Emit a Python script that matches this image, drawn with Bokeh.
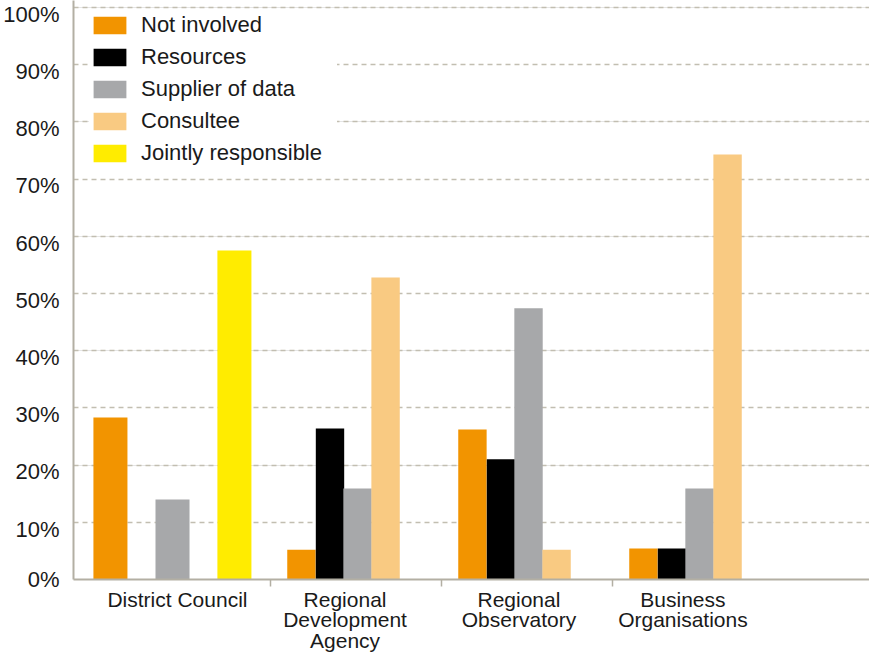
from bokeh.plotting import figure
from bokeh.models import (ColumnDataSource, Range1d, LinearAxis, FixedTicker, Grid,
                          PrintfTickFormatter, Legend, LegendItem)
from bokeh.embed import file_html
from bokeh.resources import INLINE

# ---------------- data ----------------
categories = ["District Council", "Regional\nDevelopment\nAgency",
              "Regional\nObservatory", "Business\nOrganisations"]
series = ["Not involved", "Resources", "Supplier of data", "Consultee", "Jointly responsible"]
not_involved = [28.3, 5.2, 26.2, 5.4]
resources = [0.0, 26.4, 21.0, 5.4]
supplier_of_data = [14.0, 15.9, 47.4, 15.9]
consultee = [0.0, 52.8, 5.2, 74.3]
jointly_responsible = [57.5, 0.0, 0.0, 0.0]
y_ticks = [0, 10, 20, 30, 40, 50, 60, 70, 80, 90, 100]

values = [not_involved, resources, supplier_of_data, consultee, jointly_responsible]

# ---------------- style / layout ----------------
colors = ["#F29400", "#000000", "#A7A8AA", "#F9CA82", "#FFEC00"]
AXIS_COLOR = "#B3AFA3"
GRID_COLOR = "#C2BEB1"
FONT = "Liberation Sans"
OFFSETS = [-0.319, -0.152, 0.009, 0.173, 0.338]
WIDTH = 0.166
FIRST_OFFSETS = [-0.436, -0.254, -0.073, 0.108, 0.289]
FIRST_WIDTH = 0.199
LABEL_SHIFT = [-0.044, -0.064, -0.047, -0.088]   # centre of each category label block
Y_LABEL_DROP = 1.25   # tick labels sit slightly below their gridlines, as in the original
Y_MAX = 101.2

p = figure(frame_width=796, frame_height=579, output_backend="svg", toolbar_location=None,
           x_range=Range1d(-0.652, 4.003), y_range=Range1d(0, Y_MAX),
           y_axis_location=None, min_border_left=73, min_border_right=0,
           min_border_top=0, min_border_bottom=70)
p.outline_line_color = None
p.background_fill_color = "white"
p.border_fill_color = "white"

# y grid
grid = Grid(dimension=1, ticker=FixedTicker(ticks=y_ticks), grid_line_color=GRID_COLOR,
            grid_line_dash="5 4", grid_line_width=1.5)
p.add_layout(grid)
p.xgrid.visible = False

# bars
renderers = []
n = len(categories)
for k, (name, vals) in enumerate(zip(series, values)):
    xs = [i + (FIRST_OFFSETS[k] if i == 0 else OFFSETS[k]) for i in range(n)]
    ws = [FIRST_WIDTH if i == 0 else WIDTH for i in range(n)]
    src = ColumnDataSource(dict(x=xs, top=vals, w=ws))
    r = p.vbar(x="x", top="top", width="w", bottom=0, source=src,
               fill_color=colors[k], line_color=None)
    renderers.append(r)

# y axis (labels on a slightly shifted range so they sit just below the gridlines)
p.extra_y_ranges = {"lab": Range1d(Y_LABEL_DROP - 0.05, Y_MAX + Y_LABEL_DROP - 0.05)}
lab_ticks = [Y_LABEL_DROP] + y_ticks[1:]
yaxis = LinearAxis(y_range_name="lab", ticker=FixedTicker(ticks=lab_ticks),
                   formatter=PrintfTickFormatter(format="%d%%"),
                   major_label_overrides={Y_LABEL_DROP: "%d%%" % y_ticks[0]})
yaxis.axis_line_color = AXIS_COLOR
yaxis.axis_line_width = 2
yaxis.major_tick_line_color = None
yaxis.major_tick_out = 0
yaxis.major_tick_in = 0
yaxis.minor_tick_line_color = None
yaxis.minor_tick_out = 0
yaxis.major_label_text_font = FONT
yaxis.major_label_text_font_size = "22px"
yaxis.major_label_text_color = "#1a1a1a"
yaxis.major_label_standoff = 14
p.add_layout(yaxis, "left")

# x axis: category labels as major ticks, group separators as minor ticks
label_pos = [i + LABEL_SHIFT[i] for i in range(n)]
xaxis = p.xaxis[0]
xaxis.ticker = FixedTicker(ticks=label_pos, minor_ticks=[0.5, 1.5, 2.5])
xaxis.major_label_overrides = {pos: cat for pos, cat in zip(label_pos, categories)}
xaxis.axis_line_color = AXIS_COLOR
xaxis.axis_line_width = 2
xaxis.major_tick_line_color = None
xaxis.major_tick_out = 0
xaxis.major_tick_in = 0
xaxis.minor_tick_line_color = AXIS_COLOR
xaxis.minor_tick_line_width = 1.5
xaxis.minor_tick_out = 7
xaxis.minor_tick_in = 0
xaxis.major_label_standoff = 1
xaxis.major_label_text_font = FONT
xaxis.major_label_text_font_size = "21px"
xaxis.major_label_text_color = "#1a1a1a"
xaxis.major_label_text_line_height = 0.9

# legend
legend = Legend(items=[LegendItem(label=s, renderers=[r]) for s, r in zip(series, renderers)],
                location=(16, 413), orientation="vertical",
                glyph_width=41, glyph_height=22, label_height=22, label_width=196,
                label_standoff=11, spacing=6, padding=2, margin=0,
                label_text_font=FONT, label_text_font_size="22px",
                label_text_color="#1a1a1a", border_line_color=None,
                background_fill_color="white", background_fill_alpha=1.0)
p.add_layout(legend)

open("out.html", "w").write(file_html(p, INLINE))
